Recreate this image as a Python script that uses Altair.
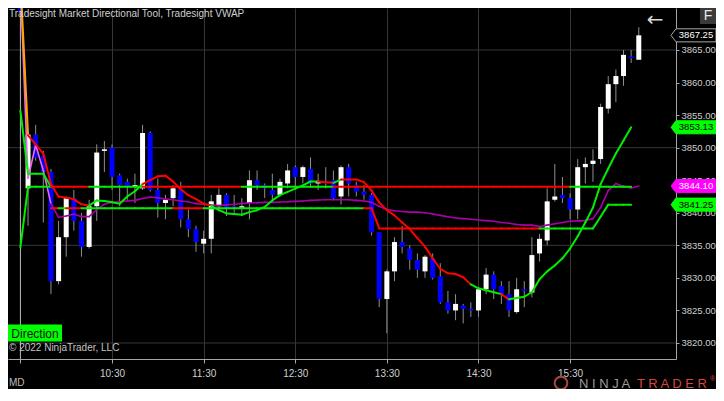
import altair as alt
import pandas as pd

# ---------------- data ----------------
T0 = 570      # 09:30 in minutes after midnight
BAR_MIN = 5   # 5-minute bars

OPEN = [3874.5, 3843.75, 3852.0, 3848.75, 3846.25, 3829.5, 3836.25, 3842.25, 3838.75, 3834.75,
        3841.0, 3849.5, 3850.0, 3845.75, 3844.75, 3844.0, 3843.75, 3852.25, 3843.5, 3841.5,
        3842.25, 3843.5, 3839.0, 3837.5, 3835.25, 3836.0, 3841.0, 3842.75, 3841.0, 3840.75,
        3841.5, 3845.0, 3844.25, 3843.5, 3842.75, 3844.5, 3847.0, 3845.5, 3846.75, 3844.5,
        3844.75, 3845.0, 3842.5, 3847.0, 3844.25, 3843.25, 3842.75, 3837.0, 3826.75, 3831.0,
        3835.5, 3834.5, 3832.75, 3831.0, 3833.0, 3830.25, 3826.25, 3825.0, 3825.75, 3825.25,
        3825.0, 3828.25, 3830.5, 3828.75, 3827.5, 3824.75, 3828.25, 3827.75, 3833.75, 3835.75,
        3842.0, 3842.75, 3842.25, 3840.5, 3847.0, 3847.5, 3848.25, 3856.0, 3859.75, 3861.0,
        3864.0, 3863.5]
CLOSE = [3871.0, 3852.0, 3848.5, 3846.25, 3829.5, 3836.25, 3842.25, 3838.75, 3834.75, 3841.0,
         3849.25, 3849.75, 3845.5, 3844.25, 3844.0, 3844.25, 3852.25, 3843.5, 3841.5, 3842.0,
         3843.75, 3839.0, 3837.5, 3835.5, 3836.0, 3841.75, 3842.75, 3840.75, 3840.75, 3841.0,
         3845.0, 3844.25, 3843.75, 3842.75, 3844.75, 3846.5, 3845.5, 3847.0, 3844.5, 3844.75,
         3844.5, 3842.25, 3847.0, 3844.5, 3843.25, 3842.75, 3837.0, 3826.75, 3831.0, 3835.5,
         3834.75, 3832.75, 3831.25, 3833.25, 3830.0, 3826.25, 3825.0, 3826.0, 3825.25, 3825.0,
         3828.25, 3830.5, 3828.25, 3827.5, 3825.0, 3828.25, 3828.0, 3833.5, 3836.0, 3841.75,
         3842.5, 3842.25, 3840.5, 3847.0, 3847.5, 3848.0, 3856.25, 3859.75, 3861.0, 3864.25,
         3863.75, 3867.25]
HIGH = [3875.0, 3852.25, 3853.5, 3849.5, 3846.75, 3838.75, 3842.5, 3843.5, 3840.0, 3842.0,
        3850.5, 3851.0, 3850.5, 3846.0, 3845.25, 3846.0, 3853.5, 3852.5, 3845.25, 3842.75,
        3844.25, 3844.75, 3840.5, 3838.0, 3837.25, 3842.75, 3843.75, 3843.0, 3842.75, 3842.25,
        3846.5, 3846.5, 3844.5, 3846.0, 3845.25, 3847.5, 3847.25, 3847.25, 3848.5, 3846.0,
        3847.0, 3846.5, 3847.25, 3847.5, 3844.75, 3844.25, 3843.0, 3837.0, 3831.25, 3836.25,
        3838.0, 3835.0, 3833.75, 3833.5, 3833.75, 3832.25, 3828.0, 3827.5, 3826.0, 3826.25,
        3828.5, 3831.5, 3831.0, 3829.5, 3829.5, 3830.0, 3829.5, 3836.25, 3836.75, 3843.75,
        3847.5, 3845.5, 3843.0, 3848.25, 3848.5, 3849.75, 3856.75, 3861.0, 3862.0, 3865.0,
        3865.0, 3868.5]
LOW = [3870.5, 3838.0, 3848.0, 3838.5, 3827.5, 3829.0, 3833.25, 3837.25, 3833.25, 3834.5,
       3838.75, 3846.25, 3843.5, 3841.0, 3842.0, 3841.5, 3843.5, 3843.25, 3839.25, 3839.0,
       3841.0, 3837.75, 3836.25, 3834.0, 3833.75, 3833.75, 3840.5, 3839.5, 3840.0, 3839.5,
       3839.0, 3843.5, 3842.25, 3841.5, 3842.5, 3843.75, 3843.75, 3844.5, 3844.0, 3843.5,
       3843.75, 3842.0, 3841.25, 3842.5, 3842.5, 3842.0, 3836.5, 3825.5, 3821.5, 3829.5,
       3833.75, 3831.25, 3830.0, 3830.0, 3829.75, 3826.0, 3824.5, 3823.5, 3823.0, 3824.0,
       3824.0, 3827.5, 3826.75, 3826.0, 3824.0, 3824.5, 3825.5, 3827.0, 3832.5, 3835.0,
       3841.75, 3841.5, 3839.0, 3839.0, 3844.5, 3844.75, 3847.5, 3855.25, 3857.0, 3859.5,
       3863.0, 3863.5]

# Tradesight directional moving line (bars 0..80)
MA = [3875.7, 3851.9, 3850.5, 3849.1, 3844.4, 3842.5, 3842.3, 3842.1, 3841.3, 3841.1,
      3841.9, 3841.8, 3841.6, 3841.4, 3842.5, 3843.3, 3844.4, 3845.0, 3845.6, 3845.7,
      3844.8, 3843.6, 3842.7, 3842.1, 3841.4, 3841.1, 3840.4, 3839.9, 3839.8, 3839.7,
      3840.1, 3840.4, 3840.9, 3841.9, 3842.7, 3843.2, 3843.7, 3844.2, 3844.8, 3844.8,
      3844.7, 3844.6, 3845.1, 3845.1, 3845.1, 3844.7, 3843.4, 3841.6, 3840.4, 3839.6,
      3838.5, 3837.5, 3836.1, 3834.8, 3833.0, 3831.4, 3830.7, 3830.6, 3830.1, 3829.0,
      3828.4, 3828.1, 3827.8, 3827.5, 3826.7, 3826.9, 3827.1, 3827.8, 3829.8, 3831.0,
      3831.9, 3833.0, 3834.5, 3836.4, 3838.5, 3840.8, 3844.4, 3846.8, 3849.1, 3851.1,
      3853.13]
MA_STATE = list("ORRRRRRRRGGGGGGGRRRRRRRRRGGGGGGGGGGGGGGRRGRRRRRRRRRRRRRRRRRGGGGRGGGGGGGGGGGGGGGG")

# Tradesight VWAP (bars 0..81)
VWAP = [3874.9, 3845.3, 3850.4, 3846.5, 3841.4, 3839.3, 3839.5, 3839.8, 3839.4, 3839.4,
        3840.5, 3841.3, 3841.6, 3841.7, 3841.8, 3841.9, 3842.2, 3842.4, 3842.3, 3842.1,
        3842.0, 3841.8, 3841.7, 3841.4, 3841.3, 3841.2, 3841.1, 3841.2, 3841.3, 3841.4,
        3841.5, 3841.55, 3841.6, 3841.6, 3841.65, 3841.7, 3841.75, 3841.8, 3841.9, 3841.97,
        3842.0, 3842.0, 3842.0, 3842.0, 3841.9, 3841.8, 3841.6, 3841.0, 3840.5, 3840.3,
        3840.2, 3840.1, 3840.1, 3840.0, 3839.8, 3839.6, 3839.4, 3839.2, 3839.1, 3839.0,
        3838.9, 3838.8, 3838.7, 3838.5, 3838.4, 3838.2, 3838.1, 3838.1, 3837.9, 3838.1,
        3838.3, 3838.5, 3838.7, 3838.75, 3838.8, 3839.1, 3840.8, 3843.4, 3844.5, 3844.05,
        3843.8, 3844.10]
VWAP_STATE = list("PPPP" + "M" * 77)

# Directional tool step levels
HI_BARS = [0, 1, 2, 3, 4]
HI_LEVEL = [3855.7, 3846.0, 3846.0, 3846.0, 3844.0]
HI_STATE = list("GGGG")

UP_LEVEL = [3834.7] + [3844.0] * 80          # bars 0..80
UP_STATE = list("GGGG" + "RRRRR" + "GGGGGGG" + "R" * 13 + "G" * 12 + "R" * 31 + "G" * 8)

LO_FIRST_BAR = 4
LO_LEVEL = [3840.7] * 43 + [3837.6] * 29 + [3839.4] + [3841.25] * 4   # bars 4..80
LO_STATE = list("RGRR" + "G" * 12 + "RRRR" + "G" * 21 + "R" * 23 + "G" * 12)

PRICE_TICKS = [3820, 3825, 3830, 3835, 3840, 3845, 3850, 3855, 3860, 3865]
GRID_PRICES = [3820, 3835, 3850, 3865]
TIME_TICKS = [570, 630, 690, 750, 810, 870, 930]   # 9:30 .. 15:30

TAG_PRICES = [3867.25, 3853.13, 3844.10, 3841.25]
TAG_FILL = ["#000000", "#00FF00", "#FF00FF", "#00FF00"]
TAG_STROKE = ["#A8A8A8", "#00FF00", "#FF00FF", "#00FF00"]
TAG_TEXT = ["#FFFFFF", "#000000", "#FFFFFF", "#000000"]

# ---------------- frames ----------------
n_bars = len(OPEN)
times = [T0 + BAR_MIN * i for i in range(n_bars)]
candles = pd.DataFrame({"t": times, "open": OPEN, "close": CLOSE, "high": HIGH, "low": LOW})
candles["dir"] = ["up" if c >= o else "down" for o, c in zip(OPEN, CLOSE)]


def segments(ts, ps, states):
    rows = []
    for i in range(len(ps) - 1):
        rows.append({"t": ts[i], "p": ps[i], "t2": ts[i + 1], "p2": ps[i + 1], "state": states[i]})
    return pd.DataFrame(rows)


ma_df = segments(times[:len(MA)], MA, MA_STATE)
vwap_df = segments(times[:len(VWAP)], VWAP, VWAP_STATE)
hi_df = segments([times[b] for b in HI_BARS], HI_LEVEL, HI_STATE)
up_df = segments(times[:len(UP_LEVEL)], UP_LEVEL, UP_STATE)
lo_df = segments(times[LO_FIRST_BAR:LO_FIRST_BAR + len(LO_LEVEL)], LO_LEVEL, LO_STATE)

# ---------------- scales / axes ----------------
W, H = 668, 351
xs = alt.Scale(domain=[565.15, 996.1], nice=False, zero=False)
ys = alt.Scale(domain=[3817.54, 3871.45], nice=False, zero=False)
FONT = "Liberation Sans"
LBL = "#CFCFCF"

xaxis = alt.Axis(values=TIME_TICKS, grid=True, gridColor="#363636", gridWidth=1,
                 domainColor="#A6A6A6", tickColor="#A6A6A6", tickSize=4,
                 labelColor=LBL, labelFont=FONT, labelFontSize=10, labelPadding=5,
                 labelExpr="datum.value == 570 ? '' : floor(datum.value/60) + ':' + "
                           "(datum.value % 60 < 10 ? '0' : '') + (datum.value % 60)",
                 title=None, zindex=0, labelFlush=False, labelOverlap=False)
yaxis = alt.Axis(orient="right", values=PRICE_TICKS, format=".2f", grid=False,
                 domainColor="#A6A6A6", tickColor="#A6A6A6", tickSize=3,
                 labelColor=LBL, labelFont=FONT, labelFontSize=9.5, labelPadding=2,
                 labelAlign="left", labelBaseline="middle",
                 title=None, zindex=0, labelFlush=False, labelOverlap=False)


def X(f):
    return alt.X(f, type="quantitative", scale=xs, axis=xaxis)


def Y(f):
    return alt.Y(f, type="quantitative", scale=ys, axis=yaxis)


state_color = alt.Color("state:N", legend=None,
                        scale=alt.Scale(domain=["G", "R", "O", "P", "M"],
                                        range=["#00EE00", "#FF0000", "#FFA500", "#EE66EE", "#A800A8"]))

layers = []

# horizontal grid
layers.append(alt.Chart(pd.DataFrame({"p": GRID_PRICES})).mark_rule(color="#363636", strokeWidth=1)
              .encode(y=Y("p")))
# session start line
layers.append(alt.Chart(pd.DataFrame({"t": [T0]})).mark_rule(color="#B8B8B8", strokeWidth=1)
              .encode(x=X("t")))
# wicks
layers.append(alt.Chart(candles).mark_rule(color="#8E8E8E", strokeWidth=1, clip=True)
              .encode(x=X("t"), y=Y("low"), y2="high"))
# bodies
layers.append(alt.Chart(candles).mark_bar(size=5, clip=True, strokeWidth=0)
              .encode(x=X("t"), y=Y("open"), y2="close",
                      fill=alt.Fill("dir:N", legend=None,
                                    scale=alt.Scale(domain=["up", "down"], range=["#FFFFFF", "#0000FF"]))))
# VWAP
layers.append(alt.Chart(vwap_df).mark_rule(strokeWidth=1.6, strokeCap="round", clip=True)
              .encode(x=X("t"), x2="t2", y=Y("p"), y2="p2", color=state_color))
# step levels
for df in (hi_df, up_df, lo_df):
    layers.append(alt.Chart(df).mark_rule(strokeWidth=2, strokeCap="round", clip=True)
                  .encode(x=X("t"), x2="t2", y=Y("p"), y2="p2", color=state_color))
# moving line
layers.append(alt.Chart(ma_df).mark_rule(strokeWidth=2, strokeCap="round", clip=True)
              .encode(x=X("t"), x2="t2", y=Y("p"), y2="p2", color=state_color))

# price tags
TAG_PATH = "M -1 0 L -0.78 -0.29 L 1 -0.29 L 1 0.29 L -0.78 0.29 Z"
for p, f, s, tc in zip(TAG_PRICES, TAG_FILL, TAG_STROKE, TAG_TEXT):
    tdf = pd.DataFrame({"p": [p], "label": [f"{p:.2f}"]})
    layers.append(alt.Chart(tdf).mark_point(shape=TAG_PATH, size=2025, filled=True, fill=f,
                                            stroke=s, strokeWidth=1, opacity=1)
                  .encode(x=alt.value(685.5), y=Y("p")))
    layers.append(alt.Chart(tdf).mark_text(color=tc, font=FONT, fontSize=9.5, align="center",
                                           baseline="middle")
                  .encode(x=alt.value(688), y=Y("p"), text="label:N"))

one = pd.DataFrame({"k": [0]})


def label(txt, x, y, color=LBL, size=10, align="left", weight="normal", font=FONT, baseline="middle"):
    return alt.Chart(one).mark_text(text=txt, color=color, fontSize=size, align=align,
                                    baseline=baseline, fontWeight=weight, font=font).encode(
        x=alt.value(x), y=alt.value(y))


def box(x, y, w, h, fill, stroke=None):
    hy = h / w
    path = f"M -1 {-hy} L 1 {-hy} L 1 {hy} L -1 {hy} Z"
    kw = dict(shape=path, size=w * w, filled=True, fill=fill, opacity=1)
    if stroke:
        kw.update(stroke=stroke, strokeWidth=1)
    else:
        kw.update(strokeWidth=0)
    return alt.Chart(one).mark_point(**kw).encode(x=alt.value(x), y=alt.value(y))


layers.append(label("Tradesight Market Directional Tool, Tradesight VWAP", 1, 1, baseline="top"))
layers.append(box(27, 325, 54, 17, "#00FF00"))
layers.append(label("Direction", 27, 325.5, color="#101010", size=12, align="center"))
layers.append(label("© 2022 NinjaTrader, LLC", 1, 340, color="#C4C4C4", size=10))
layers.append(label("MD", 1, 375, color="#BDBDBD", size=10))
layers.append(label("←", 647, 12, color="#D8D8D8", size=20, align="center", font="DejaVu Sans"))
layers.append(box(700, 7, 16, 18, "#3A3A3A"))
layers.append(label("F", 700, 8, color="#E8E8E8", size=14, align="center"))
# NinjaTrader logo
layers.append(alt.Chart(one).mark_point(shape="circle", size=160, filled=False, stroke="#A8493C",
                                        strokeWidth=2, opacity=1)
              .encode(x=alt.value(553), y=alt.value(375)))
layers.append(label("N I N J A", 571, 375.5, color="#9C9C9C", size=13))
layers.append(label("T R A D E R", 629, 375.5, color="#D9443A", size=13))
layers.append(label("®", 702, 371, color="#D9443A", size=7))

chart = alt.layer(*layers).properties(
    width=W, height=H,
    autosize=alt.AutoSizeParams(type="none"),
    padding={"left": 0, "top": 0, "right": 40, "bottom": 30},
    background="#000000",
).configure_view(strokeWidth=0)

chart.save("out.html", embed_options={"renderer": "svg", "actions": False})
